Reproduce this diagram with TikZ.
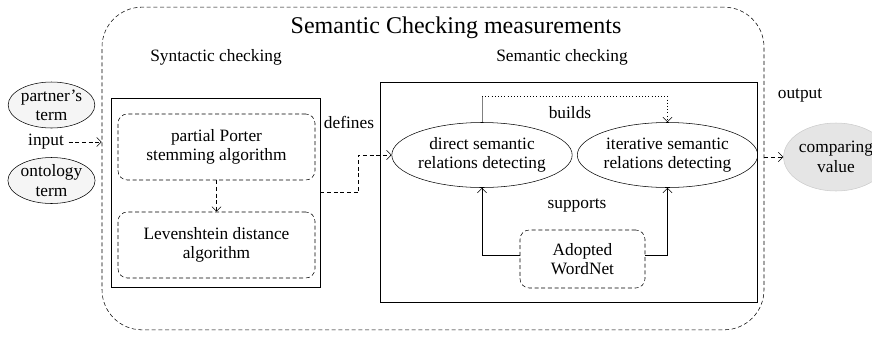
\documentclass[tikz,border=0pt]{standalone}
\usepackage{fontspec}
\setmainfont{Liberation Serif}
\usetikzlibrary{shapes.geometric,arrows.meta,calc}

\begin{document}
\begin{tikzpicture}[x=0.75pt,y=-0.75pt,font=\fontsize{13}{14.5}\selectfont,
	>={Straight Barb[length=3.5pt,width=7pt]},
	dashbox/.style={draw,densely dashed,rounded corners=7pt,align=center,inner sep=0pt,minimum width=147.75pt,minimum height=49.5pt},
	framebox/.style={draw,line width=0.7pt,inner sep=0pt},
	relation/.style={draw,ellipse,align=center,inner sep=0pt,minimum width=127.5pt,minimum height=48.75pt},
	term/.style={draw,ellipse,fill=gray!8,align=center,inner sep=0pt,minimum width=62.25pt,minimum height=34.5pt}]
	\useasboundingbox (0,0) rectangle (872,340);
	% containers
	\node[draw,densely dashed,rounded corners=30pt,minimum width=496.5pt,minimum height=242pt] at (433,168.5) (outer) {};
	\node[framebox,minimum width=156.75pt,minimum height=141.75pt] at (215.5,192.5) (syn) {};
	\node[framebox,minimum width=282.75pt,minimum height=165pt] at (568.5,192) (sem) {};
	\node[font=\fontsize{18}{21}\selectfont] at (456,28) (title) {Semantic Checking measurements};
	\node at (216,57) (synlabel) {Syntactic checking};
	\node at (562,57) (semlabel) {Semantic checking};
	% syntactic part
	\node[dashbox] at (216.5,147) (porter) {partial Porter\\stemming algorithm};
	\node[dashbox] at (216.5,245) (lev) {Levenshtein distance\\algorithm};
	\draw[densely dashed,->] (porter) -- (lev);
	% semantic part
	\node[relation] at (482,155) (direct) {direct semantic\\relations detecting};
	\node[relation] at (667.5,155) (iter) {iterative semantic\\relations detecting};
	\node[dashbox,minimum width=93.75pt,minimum height=43.5pt] at (582.5,259) (wordnet) {Adopted\\WordNet};
	\draw[gray] (direct.north) -- ++(0,-26) coordinate (b1);
	\draw[dotted,->] (b1) -| (iter.north);
	\draw[->] ([yshift=3pt]wordnet.west) -| (direct.south);
	\draw[->] ([yshift=3pt]wordnet.east) -| (iter.south);
	\node at (570,113) (builds) {builds};
	\node at (577,205) (supports) {supports};
	\draw[densely dashed,->] (syn.east) -- ++(38,0) |- (direct.west);
	\node at (349,122) (defines) {defines};
	% inputs and output
	\node[term] at (51.5,105) (partner) {partner's\\term};
	\node[term] at (51.5,180.5) (onto) {ontology\\term};
	\node at (46,142) (input) {input};
	\draw[densely dashed,->] (input.east) -- (input.east -| outer.west);
	\node[draw=gray!40,fill=gray!20,ellipse,align=center,inner sep=0pt,minimum width=66pt,minimum height=51pt] at (836,157) (comp) {comparing\\value};
	\node at (800,95) (output) {output};
	\draw[densely dashed,->] (outer.east |- comp) -- (comp.west);
\end{tikzpicture}
\end{document}
